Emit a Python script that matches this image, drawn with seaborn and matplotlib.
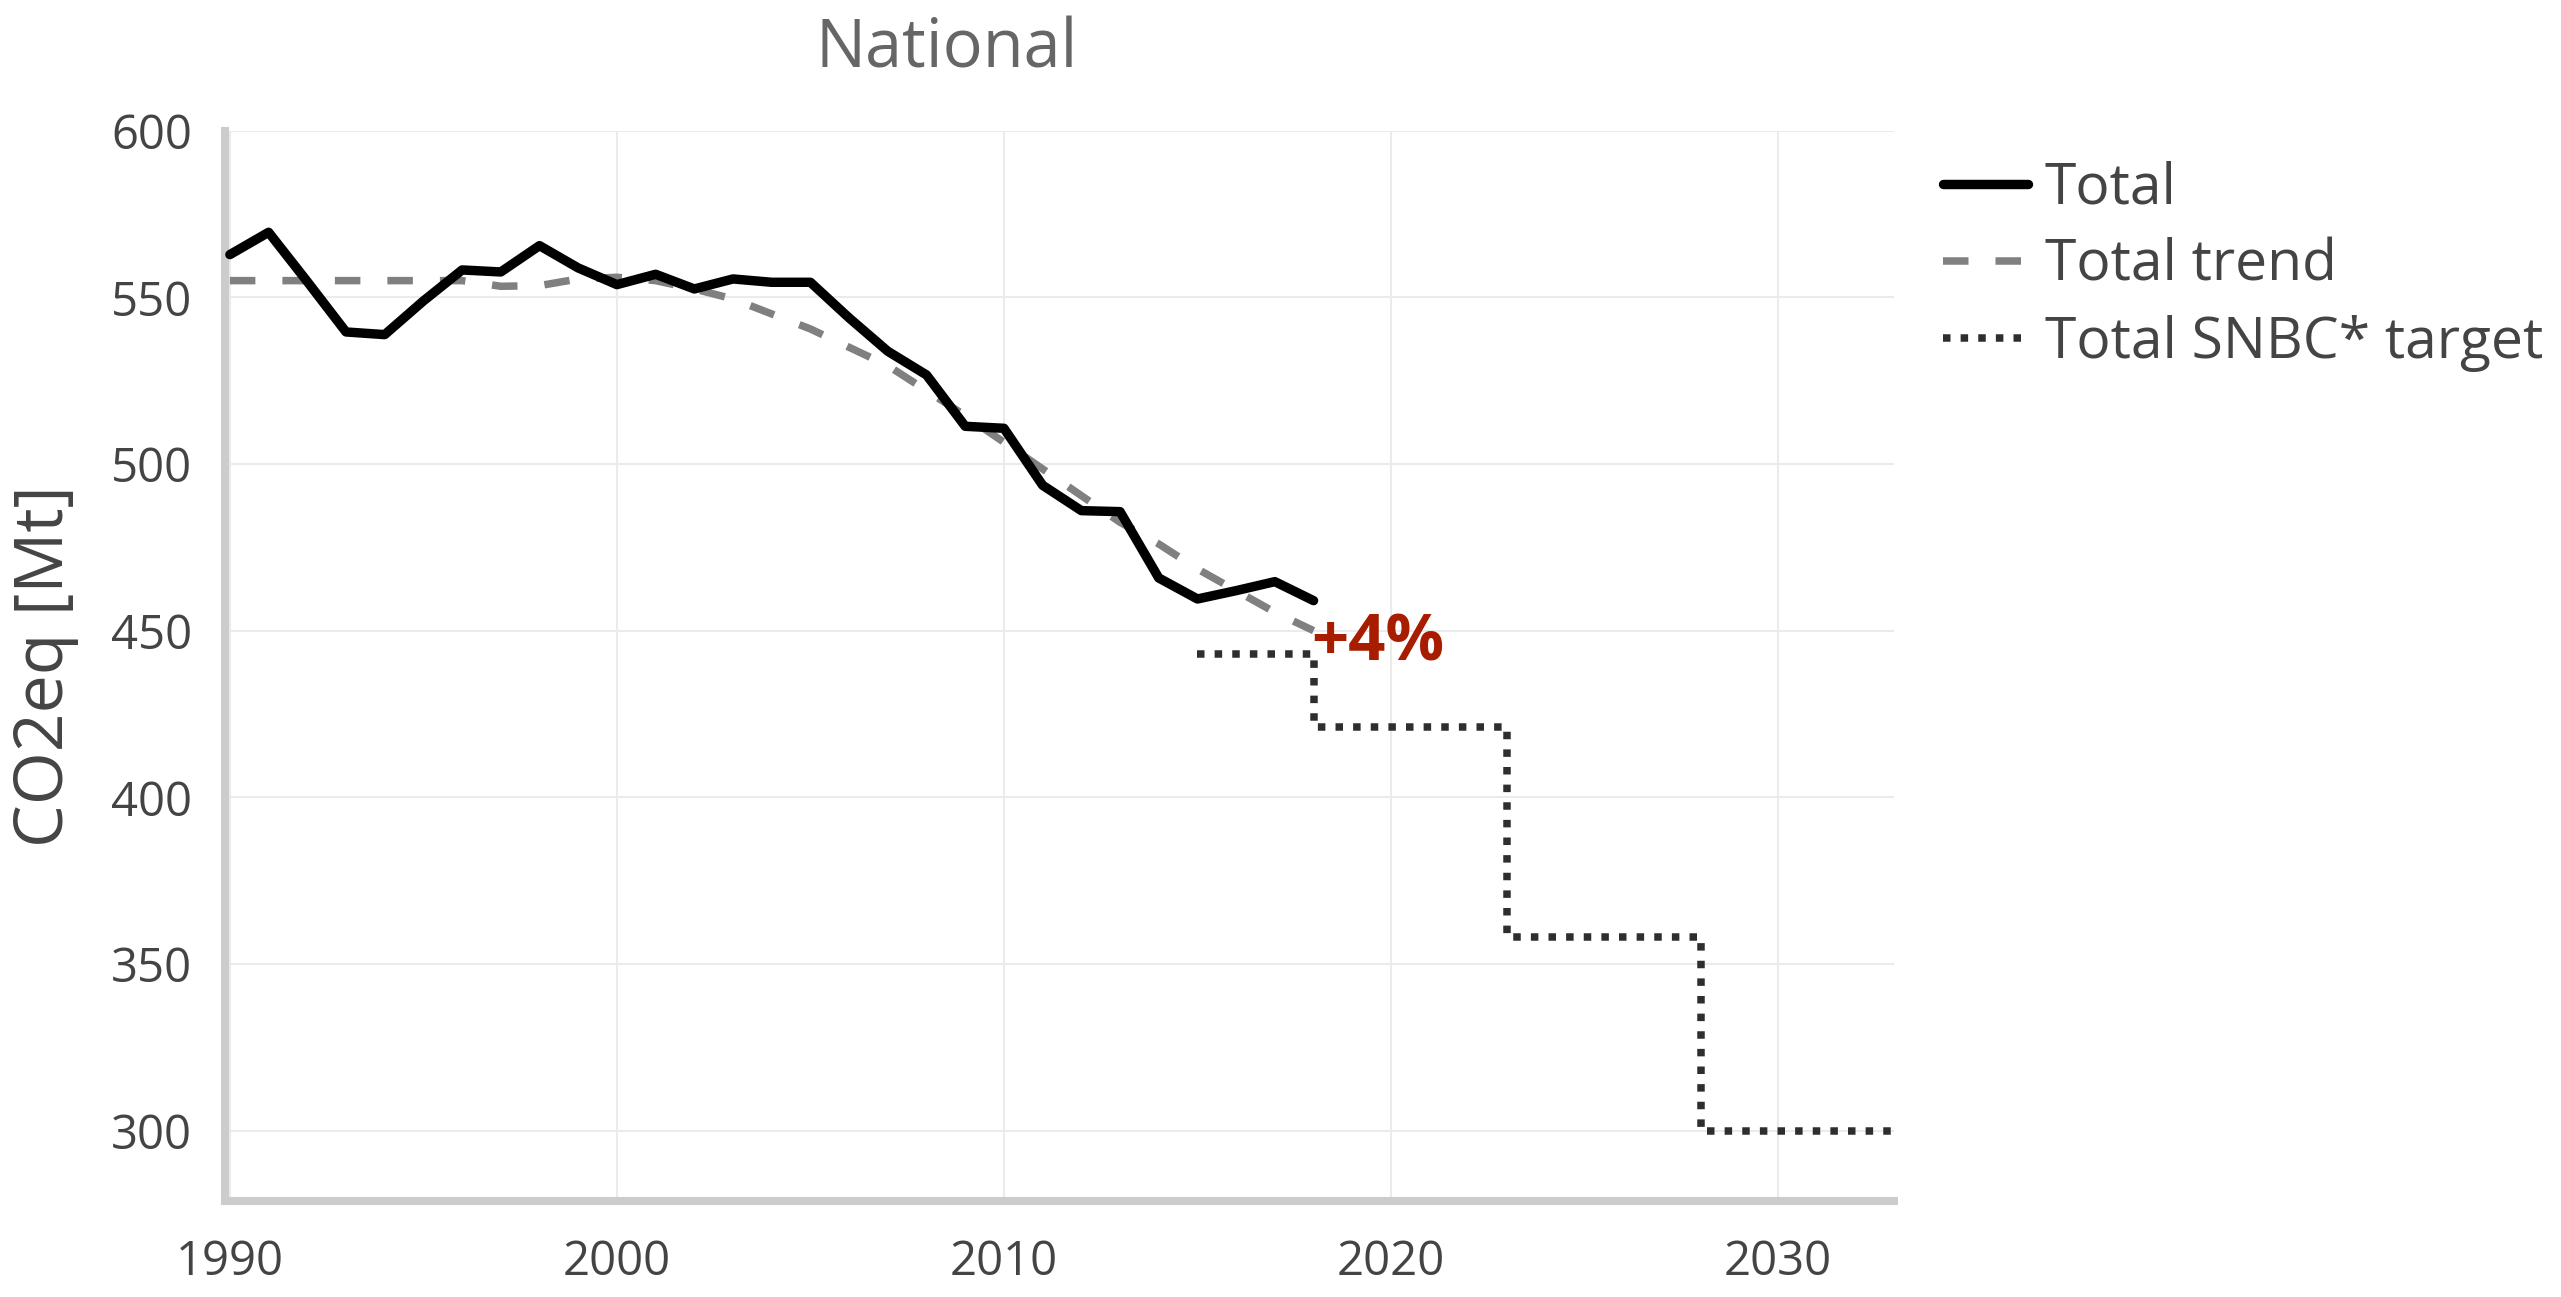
import numpy as np
import pandas as pd
import matplotlib.pyplot as plt
import seaborn as sns

# --- data ---
years = list(range(1990, 2019))
total = [562.8, 569.5, 554.7, 539.6, 538.8, 548.9, 558.2, 557.6, 565.5, 558.8,
         553.8, 556.9, 552.5, 555.5, 554.5, 554.5, 543.8, 533.8, 526.7, 511.3,
         510.7, 493.6, 486.0, 485.7, 465.8, 459.5, 462.0, 464.7, 459.0]
trend = [555.0, 555.0, 555.0, 555.0, 555.0, 555.0, 555.0, 553.3, 553.5, 555.5,
         556.0, 555.0, 552.5, 549.5, 545.0, 540.5, 535.0, 529.5, 522.0, 514.5,
         506.5, 498.5, 490.5, 482.5, 476.0, 468.5, 462.0, 455.5, 450.0]
target_years = [2015, 2018, 2023, 2028, 2033]
target = [443, 421, 358, 300, 300]

gap_label = "+4%"
gap_year, gap_value = 2018, 441

x_ticks = [1990, 2000, 2010, 2020, 2030]
y_ticks = [300, 350, 400, 450, 500, 550, 600]

df_total = pd.DataFrame({"year": years, "value": total})
df_trend = pd.DataFrame({"year": years, "value": trend})
df_target = pd.DataFrame({"year": target_years, "value": target})

# --- style ---
sns.set_style("white")
plt.rcParams["font.family"] = ["Open Sans", "DejaVu Sans"]
text_col = "#444444"

fig = plt.figure(figsize=(25.61, 12.97), dpi=100)
ax = fig.add_axes([0.0878, 0.0740, 0.6518, 0.8253])

sns.lineplot(data=df_total, x="year", y="value", ax=ax, color="black",
             linewidth=6.8, estimator=None, label="Total", zorder=4)
sns.lineplot(data=df_trend, x="year", y="value", ax=ax, color="#808080",
             linewidth=5.4, estimator=None, label="Total trend", zorder=3,
             linestyle=(0, (3.4, 3.6)))
sns.lineplot(data=df_target, x="year", y="value", ax=ax, color="#2e2e2e",
             linewidth=5.4, estimator=None, label="Total SNBC* target", zorder=3,
             linestyle=(0, (1, 1.35)), drawstyle="steps-post")

ax.text(gap_year - 0.05, gap_value, gap_label, color="#a81c00", fontsize=47,
        fontweight="bold", ha="left", va="baseline", zorder=5)

# axes
ax.set_xlim(1989.87, 2033)
ax.set_ylim(278.9, 600)
ax.set_xticks(x_ticks)
ax.set_yticks(y_ticks)
ax.grid(True, color="#ebebeb", linewidth=1.5)
ax.set_axisbelow(True)
for side in ["top", "right"]:
    ax.spines[side].set_visible(False)
for side in ["left", "bottom"]:
    ax.spines[side].set_color("#cccccc")
    ax.spines[side].set_linewidth(5.8)
ax.tick_params(axis="both", direction="out", length=13.7, width=1.4,
               color=text_col, labelcolor=text_col, labelsize=34)
ax.tick_params(axis="y", pad=10)
ax.tick_params(axis="x", pad=13)

ax.set_xlabel("")
ax.set_ylabel("CO2eq [Mt]", fontsize=49, color=text_col, va="center")
ax.yaxis.set_label_coords(-0.1078, 0.5)

fig.text(0.3698, 0.9483, "National", ha="center", va="baseline",
         fontsize=48, color="#666666")

ax.legend(loc="upper left", bbox_to_anchor=(0.7587, 0.8759),
          bbox_transform=fig.transFigure, frameon=False, fontsize=41,
          handlelength=1.49, handletextpad=0.3, labelspacing=0.35,
          borderpad=0, borderaxespad=0, labelcolor=text_col)

plt.savefig("out.png", dpi=100)
